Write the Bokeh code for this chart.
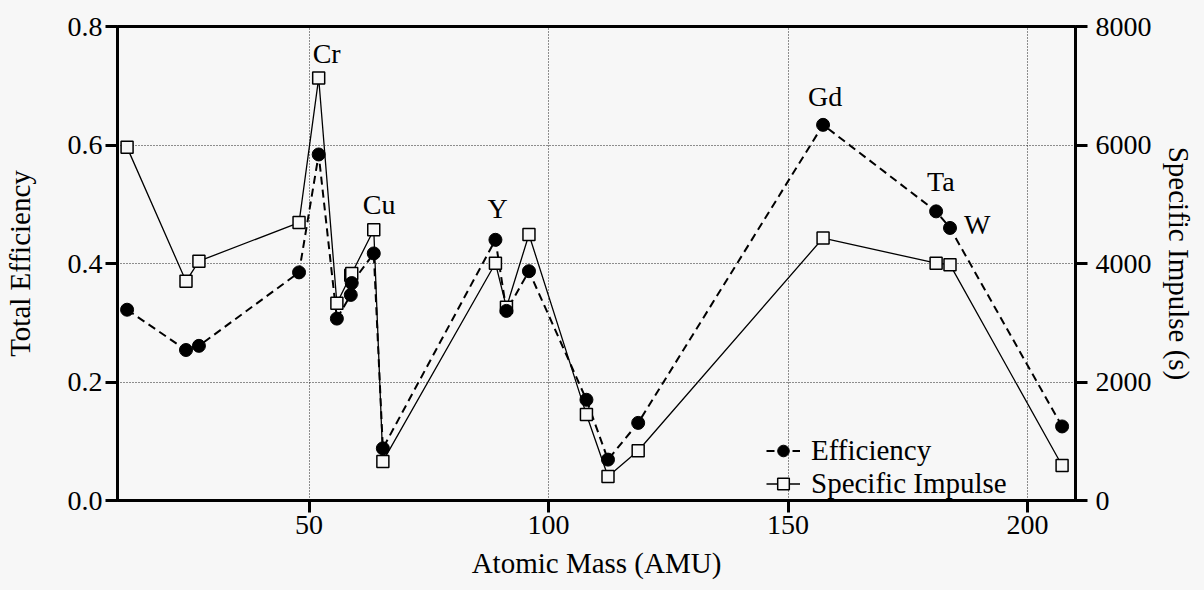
from bokeh.plotting import figure
from bokeh.models import (Range1d, LinearAxis, FixedTicker, Legend, LegendItem,
                          ColumnDataSource, PrintfTickFormatter)
from bokeh.core.properties import value
from bokeh.embed import file_html
from bokeh.resources import INLINE

# ---------------- data ----------------
elements = ["C", "Mg", "Al", "Ti", "Cr", "Fe", "Ni", "Co", "Cu", "Zn",
            "Y", "Zr", "Mo", "Ag", "Cd", "Sn", "Gd", "Ta", "W", "Pb"]
atomic_mass = [12.0, 24.3, 27.0, 47.9, 52.0, 55.8, 58.7, 58.9, 63.5, 65.4,
               88.9, 91.2, 95.9, 107.9, 112.4, 118.7, 157.3, 180.9, 183.8, 207.2]
efficiency = [0.322, 0.254, 0.261, 0.385, 0.584, 0.307, 0.347, 0.367, 0.417, 0.088,
              0.440, 0.320, 0.387, 0.170, 0.069, 0.131, 0.634, 0.488, 0.460, 0.125]
specific_impulse = [5960, 3700, 4040, 4690, 7130, 3330, 3800, 3830, 4570, 660,
                    4005, 3260, 4490, 1450, 405, 840, 4430, 4005, 3980, 590]
labeled = ["Cr", "Cu", "Y", "Gd", "Ta", "W"]
x_ticks = [50, 100, 150, 200]
y_ticks = [0.0, 0.2, 0.4, 0.6, 0.8]
isp_ticks = [0, 2000, 4000, 6000, 8000]

BG = "#f7f7f7"
FONT = "Liberation Serif"
FS = "28px"
FS_LABEL = "29px"

p = figure(width=1204, height=590, x_range=Range1d(10, 210), y_range=Range1d(0, 0.8),
           output_backend="svg", toolbar_location=None,
           min_border_left=115, min_border_right=129, min_border_top=26, min_border_bottom=90,
           background_fill_color=BG, border_fill_color=BG)
p.extra_y_ranges = {"isp": Range1d(0, 8000)}

p.outline_line_color = "black"
p.outline_line_width = 3
p.outline_line_alpha = 1

# axes
def style_axis(ax):
    ax.axis_line_width = 3
    ax.axis_line_color = "black"
    ax.major_tick_line_width = 3
    ax.major_tick_in = 0
    ax.major_tick_out = 12
    ax.minor_tick_line_color = None
    ax.major_label_text_font = FONT
    ax.major_label_text_font_size = FS
    ax.major_label_text_color = "black"
    ax.axis_label_text_font = FONT
    ax.axis_label_text_font_size = FS_LABEL
    ax.axis_label_text_font_style = "normal"
    ax.axis_label_text_color = "black"

xa = p.xaxis[0]
xa.ticker = FixedTicker(ticks=x_ticks)
xa.axis_label = "Atomic Mass (AMU)"
style_axis(xa)
xa.major_label_standoff = 3
xa.axis_label_standoff = 10

ya = p.yaxis[0]
ya.ticker = FixedTicker(ticks=y_ticks)
ya.formatter = PrintfTickFormatter(format="%.1f")
ya.axis_label = "Total Efficiency"
style_axis(ya)
ya.major_label_standoff = 3
ya.axis_label_standoff = 29

ra = LinearAxis(y_range_name="isp", ticker=FixedTicker(ticks=isp_ticks),
                axis_label="Specific Impulse (s)")
style_axis(ra)
ra.major_label_standoff = 8
ra.axis_label_standoff = 8
p.add_layout(ra, "right")

# grid
p.xgrid.ticker = FixedTicker(ticks=x_ticks)
p.ygrid.ticker = FixedTicker(ticks=y_ticks)
for g in (p.xgrid[0], p.ygrid[0]):
    g.grid_line_color = "#222222"
    g.grid_line_dash = "1 2"
    g.grid_line_width = 1

src = ColumnDataSource(dict(m=atomic_mass, e=efficiency, s=specific_impulse, el=elements))

eff_line = p.line("m", "e", source=src, line_color="black", line_width=2, line_dash="8 5")
isp_line = p.line("m", "s", source=src, y_range_name="isp", line_color="black", line_width=1.3)
isp_sq = p.scatter("m", "s", source=src, y_range_name="isp", marker="square", size=12,
                   fill_color=BG, line_color="black", line_width=1.5)
eff_circ = p.scatter("m", "e", source=src, marker="circle", size=13,
                     fill_color="black", line_color="black")

# element annotations (anchored to their data points, offset in screen pixels)
offsets = {"Cr": ("s", -6, -25), "Cu": ("s", -11, -25), "Y": ("e", -8, -31),
           "Gd": ("e", -15, -28), "Ta": ("e", -9, -30), "W": ("e", 14, -3)}
for name in labeled:
    i = elements.index(name)
    which, dx, dy = offsets[name]
    if which == "s":
        p.text(x=[atomic_mass[i]], y=[specific_impulse[i]], text=[name], y_range_name="isp",
               x_offset=dx, y_offset=dy, text_font=value(FONT), text_font_size=FS,
               text_align="left", text_baseline="alphabetic", text_color="black")
    else:
        p.text(x=[atomic_mass[i]], y=[efficiency[i]], text=[name],
               x_offset=dx, y_offset=dy, text_font=value(FONT), text_font_size=FS,
               text_align="left", text_baseline="alphabetic", text_color="black")

legend = Legend(items=[LegendItem(label="Efficiency", renderers=[eff_line, eff_circ]),
                       LegendItem(label="Specific Impulse", renderers=[isp_line, isp_sq])],
                location=(649, 0), orientation="vertical")
legend.label_text_font = FONT
legend.label_text_font_size = FS_LABEL
legend.label_text_color = "black"
legend.glyph_width = 34
legend.glyph_height = 29
legend.label_height = 29
legend.label_standoff = 11
legend.spacing = -3
legend.padding = 0
legend.margin = 0
legend.border_line_alpha = 0
legend.background_fill_alpha = 0
p.add_layout(legend, "center")

html = file_html(p, INLINE)
html = html.replace("</head>", "<style>body{background:%s;}</style></head>" % BG, 1)
open("out.html", "w").write(html)
